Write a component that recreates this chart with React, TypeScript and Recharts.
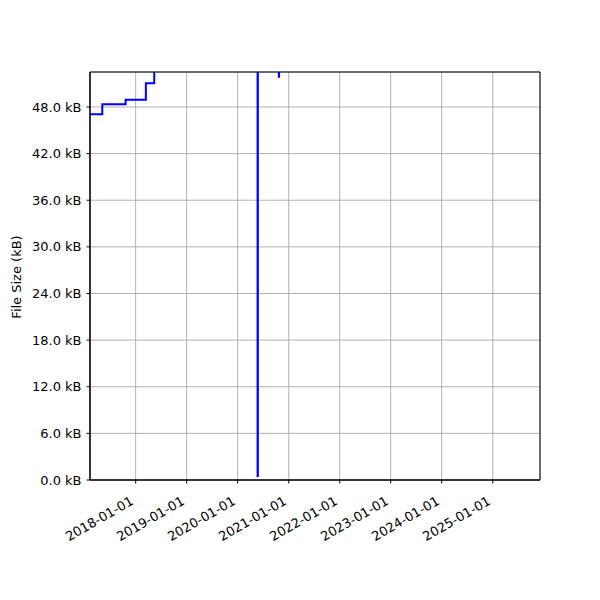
import { LineChart, Line, XAxis, YAxis, CartesianGrid, ReferenceArea } from "recharts";

// file size history (kB); values above 52.5 are clipped off the top
const dates = [
  "2017-02-08",
  "2017-05-07",
  "2017-10-21",
  "2018-03-15",
  "2018-05-14",
  "2020-05-23",
  "2020-05-25",
  "2020-10-22",
  "2020-10-24",
  "2021-06-01",
];
const sizesKb = [47.06, 48.35, 48.94, 51.05, 56, 0.51, 56, 51.9, 56, 56];

const yearTicks = [
  "2018-01-01",
  "2019-01-01",
  "2020-01-01",
  "2021-01-01",
  "2022-01-01",
  "2023-01-01",
  "2024-01-01",
  "2025-01-01",
];
const sizeTicks = [0, 6, 12, 18, 24, 30, 36, 42, 48];

const toTime = (s: string) => Date.parse(s + "T00:00:00Z");
const data = dates.map((d, i) => ({ t: toTime(d), kb: sizesKb[i] }));
const xMin = toTime("2017-02-08");
const xMax = toTime("2025-12-05");
const yMax = 52.5;

const font = "'DejaVu Sans', sans-serif";
const fontSize = 13;

function DateTick(props: any) {
  const { x, y, payload } = props;
  const label = new Date(payload.value).toISOString().slice(0, 10);
  // rotated like matplotlib's autofmt_xdate (30deg, right aligned)
  const ax = x - 6;
  const ay = y + 9;
  return (
    <text
      x={ax}
      y={ay}
      dy="0.73em"
      textAnchor="end"
      transform={`rotate(-30, ${ax}, ${ay})`}
      fill="#000"
      fontFamily={font}
      fontSize={fontSize}
    >
      {label}
    </text>
  );
}

function SizeLabel() {
  return (
    <text
      x={16}
      y={277}
      textAnchor="middle"
      dominantBaseline="central"
      transform="rotate(-90, 16, 277)"
      fill="#000"
      fontFamily={font}
      fontSize={fontSize}
    >
      File Size (kB)
    </text>
  );
}

export default function App() {
  return (
    <div style={{ position: "absolute", left: 0, top: 0, width: 600, height: 600, background: "#fff" }}>
      <LineChart width={600} height={600} data={data} margin={{ top: 72, right: 60, bottom: 0, left: 0 }}>
        <CartesianGrid stroke="#b0b0b0" strokeWidth={1} />
        <XAxis
          dataKey="t"
          type="number"
          scale="time"
          domain={[xMin, xMax]}
          allowDataOverflow
          ticks={yearTicks.map(toTime)}
          tick={<DateTick />}
          tickSize={3.5}
          tickMargin={3}
          height={120}
          axisLine={{ stroke: "#000" }}
          tickLine={{ stroke: "#000" }}
          interval={0}
        />
        <YAxis
          type="number"
          domain={[0, yMax]}
          allowDataOverflow
          ticks={sizeTicks}
          tickFormatter={(v: number) => `${v.toFixed(1)} kB`}
          tick={{ fill: "#000", fontFamily: font, fontSize }}
          tickSize={3.5}
          tickMargin={5}
          width={90}
          axisLine={{ stroke: "#000" }}
          tickLine={{ stroke: "#000" }}
          interval={0}
          label={SizeLabel}
        />
        <ReferenceArea x1={xMin} x2={xMax} y1={0} y2={yMax} fill="none" stroke="#000" strokeWidth={1} ifOverflow="visible" />
        <Line
          type="stepAfter"
          dataKey="kb"
          stroke="#0000ff"
          strokeWidth={2}
          dot={false}
          isAnimationActive={false}
        />
      </LineChart>
    </div>
  );
}
